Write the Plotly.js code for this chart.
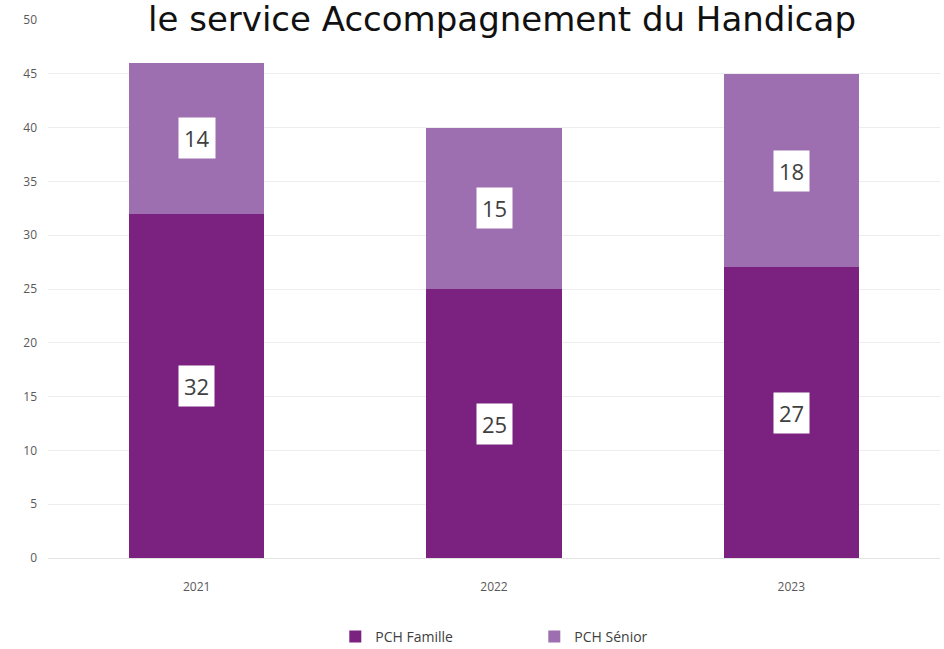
<!DOCTYPE html>
<html><head><meta charset="utf-8">
<script src="https://cdn.plot.ly/plotly-3.0.1.min.js"></script>
<style>body{margin:0;background:#fff}#chart{width:944px;height:649px}</style>
</head><body><div id="chart"></div>
<script>
const years = ['2021','2022','2023'];
const famille = [32, 25, 27];
const senior = [14, 15, 18];
const seriesNames = ['PCH Famille','PCH Sénior'];
const colors = ['#7B2280','#9E6FB0'];
const titleText = 'le service Accompagnement du Handicap';

const xs = years.map((_, i) => i);

const traces = [
  {type:'bar', x:xs, y:famille, name:seriesNames[0], marker:{color:colors[0]}, hoverinfo:'none'},
  {type:'bar', x:xs, y:senior, name:seriesNames[1], marker:{color:colors[1]}, hoverinfo:'none'}
];

const labelFont = {family:'Open Sans, Noto Sans, sans-serif', size:22, color:'#404040'};
const annotations = [];
xs.forEach(i=>{
  annotations.push({x:i, y:famille[i]/2, xref:'x', yref:'y', text:String(famille[i]), showarrow:false,
    bgcolor:'#ffffff', borderpad:5, font:labelFont});
  annotations.push({x:i, y:famille[i]+senior[i]/2, xref:'x', yref:'y', text:String(senior[i]), showarrow:false,
    bgcolor:'#ffffff', borderpad:5, font:labelFont});
});
annotations.push({x:0.5, xref:'paper', y:1, yref:'paper', yanchor:'middle', xanchor:'center', xshift:8, yshift:1,
  text:titleText, showarrow:false, bgcolor:'#ffffff', borderpad:0,
  font:{family:'DejaVu Sans, Noto Sans, sans-serif', size:34, color:'#111111'}});

const layout = {
  width:944, height:649,
  margin:{l:48, r:4, t:20, b:91, autoexpand:false},
  paper_bgcolor:'#ffffff', plot_bgcolor:'#ffffff',
  barmode:'stack', bargap:0.545,
  showlegend:true,
  legend:{orientation:'h', x:0.566, xanchor:'center', xref:'container', y:0.0185, yanchor:'middle', yref:'container',
    entrywidth:154, entrywidthmode:'pixels', traceorder:'normal',
    font:{family:'Open Sans, Noto Sans, sans-serif', size:14, color:'#404040'}},
  xaxis:{type:'linear', range:[-0.5, 2.5], tickmode:'array', tickvals:xs, ticktext:years,
    showgrid:false, zeroline:false, showline:false, ticks:'', ticklabelstandoff:20,
    tickfont:{family:'Open Sans, Noto Sans, sans-serif', size:12, color:'#595959'}},
  yaxis:{range:[0,50], dtick:5, showgrid:true, gridcolor:'#EDEDED', gridwidth:1,
    zeroline:true, zerolinecolor:'#E3E3E3', showline:false, ticks:'', ticklabelstandoff:10,
    tickfont:{family:'Open Sans, Noto Sans, sans-serif', size:12, color:'#595959'}},
  annotations:annotations
};
Plotly.newPlot('chart', traces, layout, {displayModeBar:false, staticPlot:true});
</script></body></html>
